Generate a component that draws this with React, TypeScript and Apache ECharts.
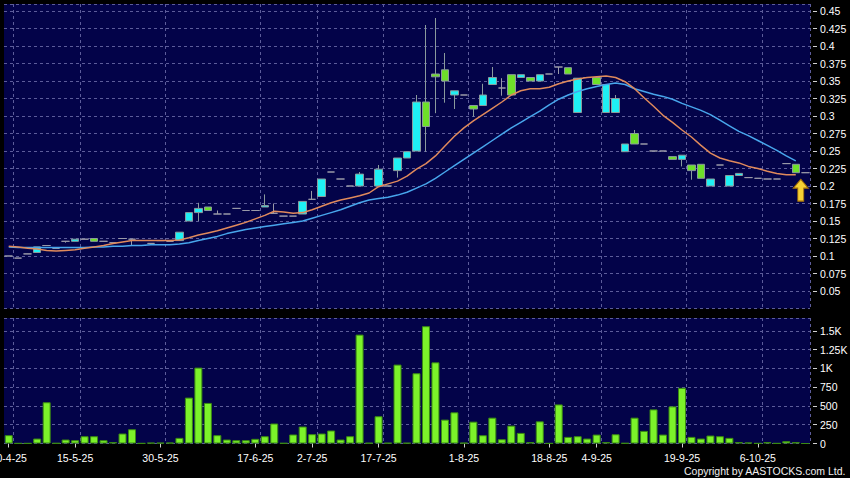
import React, { useEffect, useRef } from "react";
import * as echarts from "echarts";

// ---------- data ----------
const dates = [
  "30-4-25", "2-5-25", "6-5-25", "7-5-25", "8-5-25", "12-5-25", "14-5-25", "15-5-25",
  "16-5-25", "19-5-25", "20-5-25", "21-5-25", "22-5-25", "26-5-25", "27-5-25", "29-5-25",
  "30-5-25", "2-6-25", "3-6-25", "4-6-25", "5-6-25", "6-6-25", "9-6-25", "10-6-25",
  "12-6-25", "16-6-25", "17-6-25", "19-6-25", "20-6-25", "24-6-25", "26-6-25", "30-6-25",
  "2-7-25", "3-7-25", "4-7-25", "8-7-25", "10-7-25", "11-7-25", "15-7-25", "17-7-25",
  "18-7-25", "21-7-25", "22-7-25", "23-7-25", "24-7-25", "25-7-25", "28-7-25", "30-7-25",
  "1-8-25", "4-8-25", "5-8-25", "6-8-25", "7-8-25", "11-8-25", "12-8-25", "13-8-25",
  "15-8-25", "18-8-25", "20-8-25", "22-8-25", "27-8-25", "1-9-25", "4-9-25", "5-9-25",
  "8-9-25", "9-9-25", "10-9-25", "11-9-25", "12-9-25", "15-9-25", "17-9-25", "19-9-25",
  "22-9-25", "23-9-25", "24-9-25", "25-9-25", "29-9-25", "30-9-25", "3-10-25", "6-10-25",
  "8-10-25", "9-10-25", "10-10-25", "13-10-25", "14-10-25",
];

const tickLabels = [
  "30-4-25", "15-5-25", "30-5-25", "17-6-25", "2-7-25", "17-7-25",
  "1-8-25", "18-8-25", "4-9-25", "19-9-25", "6-10-25",
];

const opens = [
  0.100, 0.097, 0.103, 0.105, 0.115, 0.111, 0.121, 0.121, 0.124, 0.125,
  0.121, 0.119, 0.125, 0.124, 0.115, 0.118, 0.122, 0.121, 0.122, 0.150,
  0.162, 0.170, 0.160, 0.160, 0.168, 0.165, 0.165, 0.170, 0.161, 0.157,
  0.157, 0.160, 0.181, 0.185, 0.220, 0.210, 0.200, 0.200, 0.210, 0.200,
  0.200, 0.222, 0.240, 0.250, 0.320, 0.360, 0.366, 0.330, 0.330, 0.315,
  0.315, 0.345, 0.340, 0.359, 0.355, 0.355, 0.350, 0.360, 0.370, 0.369,
  0.305, 0.355, 0.355, 0.305, 0.305, 0.249, 0.275, 0.260, 0.250, 0.250,
  0.242, 0.238, 0.230, 0.231, 0.200, 0.230, 0.200, 0.215, 0.212, 0.211,
  0.210, 0.210, 0.232, 0.231, 0.219,
];
const closes = [
  0.100, 0.097, 0.103, 0.113, 0.115, 0.111, 0.121, 0.124, 0.124, 0.121,
  0.121, 0.119, 0.125, 0.124, 0.115, 0.118, 0.122, 0.121, 0.134, 0.162,
  0.168, 0.165, 0.160, 0.160, 0.168, 0.165, 0.165, 0.172, 0.161, 0.157,
  0.157, 0.178, 0.181, 0.210, 0.220, 0.210, 0.200, 0.217, 0.210, 0.224,
  0.200, 0.240, 0.249, 0.320, 0.285, 0.356, 0.350, 0.336, 0.330, 0.310,
  0.330, 0.355, 0.340, 0.330, 0.359, 0.350, 0.359, 0.360, 0.370, 0.360,
  0.354, 0.355, 0.345, 0.345, 0.325, 0.260, 0.260, 0.260, 0.250, 0.250,
  0.238, 0.244, 0.222, 0.211, 0.210, 0.230, 0.215, 0.218, 0.212, 0.211,
  0.210, 0.210, 0.232, 0.219, 0.219,
];
const lows = [
  0.100, 0.097, 0.103, 0.105, 0.115, 0.111, 0.119, 0.121, 0.124, 0.121,
  0.121, 0.119, 0.125, 0.115, 0.115, 0.118, 0.122, 0.121, 0.122, 0.150,
  0.150, 0.165, 0.160, 0.160, 0.168, 0.165, 0.165, 0.170, 0.161, 0.157,
  0.157, 0.160, 0.181, 0.185, 0.220, 0.210, 0.200, 0.200, 0.210, 0.200,
  0.200, 0.212, 0.240, 0.250, 0.249, 0.304, 0.319, 0.310, 0.330, 0.299,
  0.315, 0.345, 0.329, 0.330, 0.355, 0.350, 0.350, 0.360, 0.360, 0.360,
  0.305, 0.355, 0.345, 0.305, 0.305, 0.249, 0.260, 0.260, 0.250, 0.250,
  0.238, 0.228, 0.209, 0.211, 0.200, 0.230, 0.200, 0.215, 0.212, 0.211,
  0.210, 0.210, 0.232, 0.219, 0.219,
];
const highs = [
  0.100, 0.097, 0.103, 0.113, 0.115, 0.111, 0.121, 0.124, 0.124, 0.125,
  0.121, 0.119, 0.125, 0.124, 0.115, 0.118, 0.122, 0.121, 0.134, 0.162,
  0.176, 0.170, 0.165, 0.160, 0.168, 0.165, 0.165, 0.188, 0.175, 0.157,
  0.157, 0.178, 0.193, 0.210, 0.220, 0.210, 0.200, 0.220, 0.210, 0.230,
  0.200, 0.240, 0.249, 0.330, 0.430, 0.440, 0.390, 0.336, 0.330, 0.315,
  0.346, 0.370, 0.354, 0.359, 0.359, 0.355, 0.359, 0.360, 0.370, 0.369,
  0.354, 0.355, 0.355, 0.345, 0.330, 0.260, 0.280, 0.260, 0.250, 0.250,
  0.242, 0.244, 0.230, 0.231, 0.210, 0.230, 0.215, 0.218, 0.212, 0.211,
  0.210, 0.210, 0.232, 0.231, 0.219,
];

const volumes = [
  111, 3, 3, 66, 549, 5, 53, 44, 97, 97,
  44, 18, 133, 190, 3, 10, 10, 12, 75, 611,
  1010, 540, 111, 53, 44, 44, 62, 97, 266, 5,
  120, 226, 124, 133, 173, 53, 97, 1449, 8, 363,
  8, 1050, 8, 935, 1561, 1080, 318, 415, 10, 291,
  110, 344, 57, 238, 141, 18, 295, 3, 520, 88,
  97, 66, 119, 18, 123, 5, 344, 168, 454, 119,
  494, 741, 88, 66, 106, 97, 75, 18, 13, 3,
  18, 3, 31, 18, 0,
];

const maShort = [
  0.114, 0.113, 0.111, 0.110, 0.108, 0.107, 0.108, 0.109, 0.111, 0.113,
  0.115, 0.118, 0.120, 0.122, 0.122, 0.122, 0.122, 0.122, 0.123, 0.126,
  0.130, 0.133, 0.136, 0.140, 0.144, 0.148, 0.153, 0.158, 0.164, 0.163,
  0.161, 0.162, 0.166, 0.171, 0.176, 0.180, 0.183, 0.186, 0.190, 0.199,
  0.203, 0.207, 0.214, 0.224, 0.232, 0.243, 0.257, 0.271, 0.283, 0.293,
  0.302, 0.311, 0.320, 0.330, 0.336, 0.339, 0.339, 0.341, 0.346, 0.350,
  0.353, 0.355, 0.356, 0.357, 0.355, 0.349, 0.339, 0.326, 0.314, 0.301,
  0.291, 0.280, 0.270, 0.258, 0.247, 0.240, 0.236, 0.233, 0.228, 0.225,
  0.221, 0.218, 0.216, 0.216, null,
];
const maLong = [
  0.113, 0.112, 0.112, 0.112, 0.112, 0.112, 0.112, 0.112, 0.112, 0.113,
  0.113, 0.114, 0.114, 0.115, 0.115, 0.116, 0.116, 0.116, 0.117, 0.119,
  0.122, 0.125, 0.128, 0.132, 0.135, 0.138, 0.140, 0.142, 0.144, 0.146,
  0.148, 0.150, 0.154, 0.158, 0.162, 0.166, 0.171, 0.176, 0.180, 0.182,
  0.184, 0.187, 0.191, 0.197, 0.203, 0.211, 0.220, 0.229, 0.238, 0.247,
  0.256, 0.265, 0.274, 0.283, 0.291, 0.299, 0.307, 0.316, 0.324, 0.330,
  0.335, 0.339, 0.342, 0.345, 0.347, 0.345, 0.339, 0.335, 0.331, 0.328,
  0.324, 0.318, 0.313, 0.308, 0.302, 0.294, 0.286, 0.278, 0.272, 0.265,
  0.258, 0.251, 0.243, 0.236, null,
];

const signalIndex = 83;
const signalPrice = 0.194;

// ---------- styles ----------
const FONT = "Liberation Sans, Arial, sans-serif";
const PANEL = "#030349";
const GRIDLINE = "#5c5c9a";
const CYAN = "#1ff0f4";
const GREEN = "#6ee02a";
const CANDLE_BORDER = "#8a9a9c";
const VOL_FILL = "#7cf22a";
const VOL_BORDER = "#3a8a12";
const MA_SHORT_COLOR = "#e08a5c";
const MA_LONG_COLOR = "#48a6ec";

export default function App() {
  const ref = useRef<HTMLDivElement>(null);

  useEffect(() => {
    if (!ref.current) return;
    const chart = echarts.init(ref.current, null, { renderer: "svg" });

    const tickSet = new Set(tickLabels);
    const isTick = (i: number) => tickSet.has(dates[i]);
    const splitInt = (i: number) => i > 0 && isTick(i - 1);
    const tickInt = (i: number) => isTick(i);

    const candleData = dates.map((_, i) => [opens[i], closes[i], lows[i], highs[i]]);

    const dashed = { color: GRIDLINE, type: [3, 3] as any, width: 1 };

    const option: any = {
      animation: false,
      backgroundColor: "#000000",
      textStyle: { fontFamily: FONT },
      grid: [
        { left: 4, right: 40, top: 4, height: 304.5, show: true, backgroundColor: PANEL, borderWidth: 0, containLabel: false, outerBoundsMode: "none" },
        { left: 4, right: 40, top: 318, height: 125.5, show: true, backgroundColor: PANEL, borderWidth: 0, containLabel: false, outerBoundsMode: "none" },
      ],
      xAxis: [
        {
          type: "category", gridIndex: 0, data: dates, boundaryGap: true,
          axisLine: { show: false }, axisTick: { show: false }, axisLabel: { show: false },
          splitLine: { show: true, interval: splitInt, lineStyle: dashed },
        },
        {
          type: "category", gridIndex: 1, data: dates, boundaryGap: true,
          axisLine: { show: false },
          axisTick: { show: true, alignWithLabel: true, interval: tickInt, length: 4, lineStyle: { color: "#d0d0d0" } },
          axisLabel: { show: true, interval: tickInt, color: "#ffffff", fontSize: 10.5, fontFamily: FONT, margin: 9, hideOverlap: false },
          splitLine: { show: true, interval: splitInt, lineStyle: dashed },
        },
      ],
      yAxis: [
        {
          type: "value", gridIndex: 0, position: "right", offset: 3,
          min: 0.025, max: 0.46, interval: 0.025, scale: false,
          axisLine: { show: false },
          axisTick: { show: true, length: 4, lineStyle: { color: "#d0d0d0" } },
          axisLabel: { color: "#ffffff", fontSize: 10.5, fontFamily: FONT, margin: 7, showMinLabel: false, showMaxLabel: false },
          splitLine: { show: true, lineStyle: dashed },
        },
        {
          type: "value", gridIndex: 1, position: "right", offset: 3,
          min: 0, max: 1670, interval: 250,
          axisLine: { show: false },
          axisTick: { show: true, length: 4, lineStyle: { color: "#d0d0d0" } },
          axisLabel: {
            color: "#ffffff", fontSize: 10.5, fontFamily: FONT, margin: 7, showMaxLabel: false,
            formatter: (v: number) => (v >= 1000 ? v / 1000 + "K" : String(v)),
          },
          splitLine: { show: true, lineStyle: dashed },
        },
      ],
      series: [
        {
          type: "candlestick", xAxisIndex: 0, yAxisIndex: 0, data: candleData,
          barWidth: 8,
          itemStyle: {
            color: CYAN, color0: GREEN,
            borderColor: CANDLE_BORDER, borderColor0: CANDLE_BORDER, borderColorDoji: "#9a9aa8",
            borderWidth: 1,
          },
          markPoint: {
            silent: true,
            symbol: "path://M7.5 0 L15 9 L10.5 9 L10.5 22 L4.5 22 L4.5 9 L0 9 Z",
            symbolSize: [15, 22],
            symbolKeepAspect: false,
            label: { show: false },
            itemStyle: { color: "#f7d134", borderColor: "#a06c08", borderWidth: 1 },
            data: [{ coord: [dates[signalIndex], signalPrice], symbolOffset: [5, 0] }],
          },
          z: 2,
        },
        {
          type: "line", xAxisIndex: 0, yAxisIndex: 0, data: maLong,
          showSymbol: false, symbol: "none", smooth: false,
          lineStyle: { color: MA_LONG_COLOR, width: 1.5 }, z: 3,
        },
        {
          type: "line", xAxisIndex: 0, yAxisIndex: 0, data: maShort,
          showSymbol: false, symbol: "none", smooth: false,
          lineStyle: { color: MA_SHORT_COLOR, width: 1.5 }, z: 3,
        },
        {
          type: "bar", xAxisIndex: 1, yAxisIndex: 1, data: volumes,
          barWidth: 8,
          itemStyle: { color: VOL_FILL, borderColor: VOL_BORDER, borderWidth: 1 },
        },
      ],
      graphic: [
        {
          type: "text", right: 4, top: 465,
          style: { text: "Copyright by AASTOCKS.com Ltd.", fill: "#f0f0f0", font: `10.5px ${FONT}` },
        },
      ],
    };

    chart.setOption(option);
    return () => chart.dispose();
  }, []);

  return (
    <div
      ref={ref}
      style={{ position: "fixed", left: 0, top: 0, width: 850, height: 478, background: "#000" }}
    />
  );
}
